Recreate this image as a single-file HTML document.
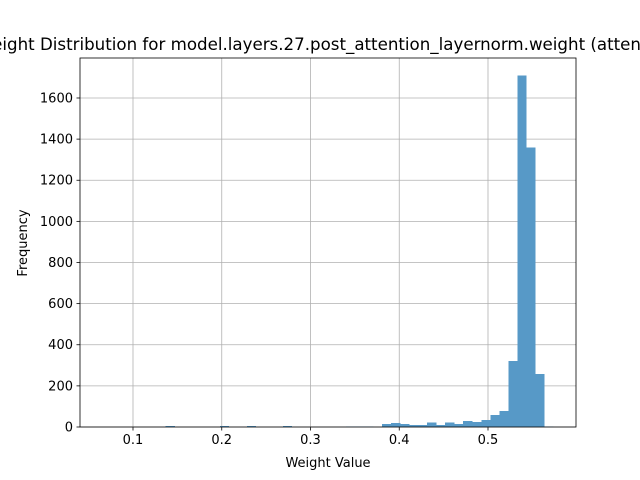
<!DOCTYPE html>
<html><head><meta charset="utf-8"><style>body{margin:0;background:#fff;overflow:hidden}svg{display:block;font-family:"DejaVu Sans","Liberation Sans",sans-serif}</style></head>
<body>
<svg id="c" width="640" height="480"></svg>
<script>
const binStart = 0.0657;
const binWidth = 0.01016;
const counts = [0,0,0,0,0,0,0,4,0,0,0,0,0,4,0,0,4,0,0,0,4,0,0,0,0,0,0,3,3,3,0,15,20,15,10,10,21,10,21,15,29,25,34,58,78,321,1710,1360,257,3];
const xTicks = [0.1,0.2,0.3,0.4,0.5];
const yTicks = [0,200,400,600,800,1000,1200,1400,1600];
const L=80,R=576,T=58,B=427;
const sx=v=>44.25+v*887.5;
const sy=v=>B-v*0.20563;
const svg=document.getElementById('c');
const NS='http://www.w3.org/2000/svg';
function mk(t,a){const e=document.createElementNS(NS,t);for(const k in a)e.setAttribute(k,a[k]);svg.appendChild(e);return e;}
xTicks.forEach(v=>{const x=sx(v);
 const g=mk('line',{x1:x,x2:x,y1:T,y2:B,stroke:'#b0b0b0','stroke-width':0.8});
 
 
 mk('line',{x1:x,x2:x,y1:B,y2:B+3.5,stroke:'#000','stroke-width':0.8});
 const t=mk('text',{x:x,y:B+17,'font-size':13,'text-anchor':'middle'});t.textContent=String(v);
 
 
});
yTicks.forEach(v=>{const y=sy(v);
 const g=mk('line',{x1:L,x2:R,y1:y,y2:y,stroke:'#b0b0b0','stroke-width':0.8});
 
 
 mk('line',{x1:L-3.5,x2:L,y1:y,y2:y,stroke:'#000','stroke-width':0.8});
 const t=mk('text',{x:L-7,y:y+4.5,'font-size':13,'text-anchor':'end'});t.textContent=String(v);
 
 
});
counts.forEach((c,i)=>{if(!c)return;const x0=sx(binStart+i*binWidth),x1=sx(binStart+(i+1)*binWidth);
 const r=mk('rect',{x:x0,y:sy(c),width:x1-x0+0.3,height:B-sy(c),fill:'#5799c7','shape-rendering':'crispEdges'});
 
 
});
const f=mk('rect',{x:L,y:T,width:R-L,height:B-T,fill:'none',stroke:'#000','stroke-width':0.8});


let t=mk('text',{x:328,y:50,'font-size':16.67,'text-anchor':'middle'});t.textContent='Weight Distribution for model.layers.27.post_attention_layernorm.weight (attention)';


t=mk('text',{x:328,y:467,'font-size':13,'text-anchor':'middle'});t.textContent='Weight Value';


t=mk('text',{x:27,y:243,'font-size':13,'text-anchor':'middle',transform:'rotate(-90 27 243)'});t.textContent='Frequency';


</script>
</body></html>
